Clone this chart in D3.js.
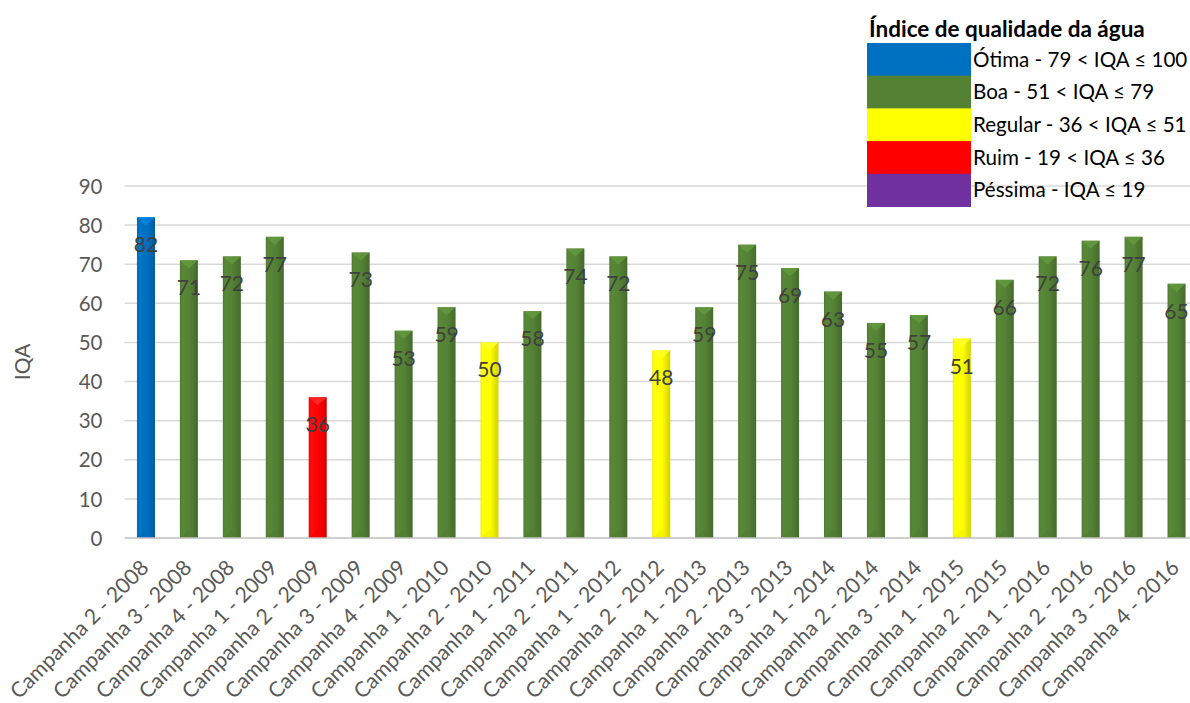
<!DOCTYPE html>
<html>
<head>
<meta charset="utf-8">
<script src="https://cdn.jsdelivr.net/npm/d3@7/dist/d3.min.js"></script>
<style>
  html, body { margin: 0; padding: 0; background: #fff; }
  svg { display: block; font-family: Lato, "Open Sans", sans-serif; }
</style>
</head>
<body>
<svg id="chart" width="1190" height="703"></svg>
<script>
// Campaign labels and water-quality index values
const categories = [
  "Campanha 2 - 2008", "Campanha 3 - 2008", "Campanha 4 - 2008",
  "Campanha 1 - 2009", "Campanha 2 - 2009", "Campanha 3 - 2009", "Campanha 4 - 2009",
  "Campanha 1 - 2010", "Campanha 2 - 2010",
  "Campanha 1 - 2011", "Campanha 2 - 2011",
  "Campanha 1 - 2012", "Campanha 2 - 2012",
  "Campanha 1 - 2013", "Campanha 2 - 2013", "Campanha 3 - 2013",
  "Campanha 1 - 2014", "Campanha 2 - 2014", "Campanha 3 - 2014",
  "Campanha 1 - 2015", "Campanha 2 - 2015",
  "Campanha 1 - 2016", "Campanha 2 - 2016", "Campanha 3 - 2016", "Campanha 4 - 2016"
];
const iqaValues = [82, 71, 72, 77, 36, 73, 53, 59, 50, 58, 74, 72, 48, 59, 75, 69, 63, 55, 57, 51, 66, 72, 76, 77, 65];
const yTicks = [0, 10, 20, 30, 40, 50, 60, 70, 80, 90];

// Quality classes (upper bound inclusive)
const classLabels = [
  "Ótima - 79 < IQA ≤ 100",
  "Boa - 51 < IQA ≤ 79",
  "Regular - 36 < IQA ≤ 51",
  "Ruim - 19 < IQA ≤ 36",
  "Péssima - IQA ≤ 19"
];
const classUpper = [100, 79, 51, 36, 19];
const classColors = ["#0070C0", "#548235", "#FFFF00", "#FF0000", "#7030A0"];
const legendTitle = "Índice de qualidade da água";

const svg = d3.select("#chart");
const margin = { left: 124.5, right: 1198, top: 186, bottom: 538 };

const x = d3.scaleBand().domain(categories)
  .range([margin.left, margin.right])
  .paddingInner(0.58).paddingOuter(0.29);
const y = d3.scaleLinear().domain([0, 90]).range([margin.bottom, margin.top]);

// class = the tightest upper bound that still contains the value
function classIndex(v) {
  let idx = 0;
  for (let i = 0; i < classUpper.length; i++) {
    if (v <= classUpper[i]) idx = i;
  }
  return idx;
}

// Shade helpers for the bevelled bar look
function shade(c, k) {
  const h = d3.hsl(c);
  return k > 0 ? h.brighter(k).formatHex() : h.darker(-k).formatHex();
}

const defs = svg.append("defs");
classColors.forEach((c, i) => {
  const g = defs.append("linearGradient").attr("id", "grad" + i)
    .attr("x1", "0%").attr("x2", "100%").attr("y1", "0%").attr("y2", "0%");
  g.append("stop").attr("offset", "0%").attr("stop-color", shade(c, -0.2));
  g.append("stop").attr("offset", "12%").attr("stop-color", shade(c, 0.12));
  g.append("stop").attr("offset", "55%").attr("stop-color", c);
  g.append("stop").attr("offset", "80%").attr("stop-color", shade(c, -0.3));
  g.append("stop").attr("offset", "100%").attr("stop-color", shade(c, -0.55));
});

// Gridlines
svg.append("g").selectAll("line").data(yTicks.filter(t => t > 0)).join("line")
  .attr("x1", margin.left).attr("x2", margin.right)
  .attr("y1", d => y(d)).attr("y2", d => y(d))
  .attr("stroke", "#d9d9d9").attr("stroke-width", 1.5);

// Y axis labels
const yAxis = d3.axisLeft(y).tickValues(yTicks).tickSize(0).tickPadding(0);
const yg = svg.append("g").attr("transform", `translate(${margin.left - 22},0)`).call(yAxis);
yg.select(".domain").remove();
yg.selectAll("text").attr("font-size", 20.5).attr("fill", "#595959")
  .attr("font-family", "Lato, sans-serif").attr("dy", "0.35em");

// Axis title
svg.append("text")
  .attr("transform", `translate(30,362) rotate(-90)`)
  .attr("text-anchor", "middle")
  .attr("font-size", 21).attr("fill", "#595959")
  .text("IQA");

// Bars
const bw = x.bandwidth();
const bars = svg.append("g").selectAll("g").data(iqaValues).join("g")
  .attr("transform", (d, i) => `translate(${x(categories[i])},0)`);

bars.append("rect")
  .attr("x", 0).attr("width", bw)
  .attr("y", d => y(d)).attr("height", d => y(0) - y(d))
  .attr("fill", d => `url(#grad${classIndex(d)})`);

// lighter bevel at the top
bars.append("path")
  .attr("d", d => {
    const t = y(d);
    return `M0,${t}L${bw},${t}L${bw / 2},${t + bw * 0.45}Z`;
  })
  .attr("fill", d => shade(classColors[classIndex(d)], 0.45))
  .attr("opacity", 0.85);

// subtle bevel at the bottom
bars.append("path")
  .attr("d", () => {
    const b = y(0);
    return `M0,${b}L${bw},${b}L${bw / 2},${b - bw * 0.45}Z`;
  })
  .attr("fill", d => shade(classColors[classIndex(d)], -0.2))
  .attr("opacity", 0.5);

// Value labels inside the bar top
bars.append("text")
  .attr("x", bw / 2).attr("y", d => y(d) + 35)
  .attr("text-anchor", "middle")
  .attr("font-size", 21).attr("fill", "#404040")
  .text(d => d);

// Baseline
svg.append("line")
  .attr("x1", margin.left).attr("x2", margin.right)
  .attr("y1", y(0)).attr("y2", y(0))
  .attr("stroke", "#bfbfbf").attr("stroke-width", 1.5);

// Category labels rotated 45°
svg.append("g").selectAll("text").data(categories).join("text")
  .attr("transform", d => `translate(${x(d) + bw / 2 + 4},${y(0) + 31}) rotate(-45)`)
  .attr("text-anchor", "end")
  .attr("font-size", 21.3).attr("fill", "#595959")
  .text(d => d);

// Legend
const lg = svg.append("g").attr("transform", "translate(867,0)");
lg.append("text").attr("x", 2).attr("y", 37)
  .attr("font-size", 22.5).attr("font-weight", "bold").attr("fill", "#000")
  .text(legendTitle);
const rowH = 32.7;
const rows = lg.selectAll("g.row").data(classLabels).join("g").attr("class", "row")
  .attr("transform", (d, i) => `translate(0,${43 + i * rowH})`);
rows.append("rect").attr("width", 104).attr("height", rowH + 0.5)
  .attr("fill", (d, i) => classColors[i]);
rows.append("text").attr("x", 106).attr("y", rowH / 2).attr("dy", "0.35em")
  .attr("font-size", 20.6).attr("fill", "#000")
  .text(d => d);
</script>
</body>
</html>
